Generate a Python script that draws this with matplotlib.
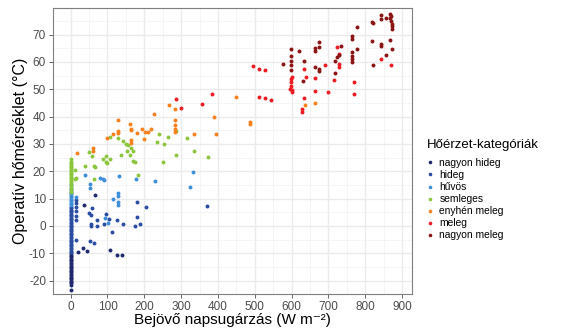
import matplotlib
matplotlib.use("Agg")
import matplotlib.pyplot as plt
from matplotlib.lines import Line2D
from matplotlib.ticker import MultipleLocator

plt.rcParams["font.family"] = ["Liberation Sans", "DejaVu Sans"]
plt.rcParams["axes.unicode_minus"] = False

# ---- data (x: W m-2, y: °C) ----
categories = ["nagyon hideg", "hideg", "hűvös", "semleges",
              "enyhén meleg", "meleg", "nagyon meleg"]
colors = ["#1f2a6e", "#2a4da3", "#3f8fd8", "#8cc63f",
          "#f7811e", "#ed1c24", "#8b1414"]

nh_x = [0] * 25 + [34, 43, 19, 107, 125, 139, 66, 36]
nh_y = [-23.5, -21.5, -21, -20.5, -20, -19.5, -19, -18.5, -18, -17.5,
        -17, -16.5, -16, -15.5, -15, -14.5, -14, -13.5, -13, -12.5,
        -12, -11.5, -11, -10.5, -10,
        -8, -9.1, -9.7, -8.7, -10.7, -10.7, 11.4, 7.5]

h_x = [0] * 34 + [14, 14, 14, 14, 14, 14, 57, 51, 55, 55, 55, 71, 71,
                  96, 105, 125, 111, 90, 141, 175, 188, 181, 181, 204,
                  14, 52, 63, 370]
h_y = [-9.5, -9, -8.5, -8, -7.5, -7, -6.5, -6, -5.5, -5, -4.5, -4,
       -3.5, -3, -2.5, -2, -1.5, -1, -0.5, 0, 0.5, 1, 1.5, 2, 2.5,
       3, 3.5, 4, 4.5, 5, 5.5, 6, 6.5, 7,
       9.6, 8.3, 7.1, 5.3, 3.7, 2.2, 6.5, 4.9, 4, 0.7, -0.2, 2.2, 0,
       4.4, 2.4, 2.2, -2.1, 0.8, 0.6, 0.1, 0.7, 3.4, 8.9, 6.9,
       -5.1, -5.5, -6.4, 7.4]

hu_x = [0] * 14 + [39, 52, 52, 80, 87, 90, 131, 129, 129, 129, 129,
                   114, 177, 229, 324, 331, 93, 102, 14]
hu_y = [7.5, 8, 8.5, 9, 9.5, 10, 10.5, 11, 11.5, 12, 12.5, 13, 14, 15.5,
        18.5, 15.4, 14, 17.5, 17.2, 16.7, 18.4, 12, 10.8, 8.9, 7.7,
        10, 17.3, 16.5, 14.3, 19.8, 2.9, 1.2, 10.5]

s_x = [0] * 22 + [12, 12, 14, 50, 57, 63, 87, 96, 96, 107, 107, 129,
                  136, 64, 66, 39, 98, 184, 168, 143, 150, 157, 153,
                  163, 170, 160, 175, 234, 240, 250, 254, 263, 285,
                  285, 317, 336, 372]
s_y = [12.5, 13, 13.5, 14.5, 15, 16, 16.5, 17, 17.5, 18, 18.5, 19,
       19.5, 20, 20.5, 21, 21.5, 22, 22.5, 23, 23.5, 24.3,
       20.6, 17.3, 17.6, 26.9, 25.5, 21.8, 24.5, 25.7, 23.4, 32.6,
       24.3, 32.2, 26.1, 17.2, 21.6, 21.8, 23, 18.7, 23.6, 30.9,
       29.8, 29.5, 27.5, 28.6, 27.4, 25.8, 23.5, 30.6, 33.5, 23.4,
       30, 32.6, 34.7, 26.1, 32.2, 27.3, 25.1]

e_x = [16, 60, 61, 98, 114, 128, 128, 128, 160, 163, 163, 164, 164,
       179, 195, 199, 203, 209, 217, 226, 267, 282, 282, 282, 282, 282,
       336, 390, 394, 448, 487, 487, 637, 664]
e_y = [26.5, 28.6, 27.5, 32.2, 33.5, 38.6, 34.7, 34.1, 37.1, 35.5, 35,
       31.6, 30.4, 34.1, 35.5, 31.9, 34.2, 34.3, 35.3, 40.9, 44.1, 42.9,
       38.7, 37, 35.5, 34.5, 33.5, 39.7, 33.5, 47.2, 38, 37.1, 44.1, 45.1]

m_x = [286, 299, 358, 385, 495, 512, 528, 512, 528, 543, 598, 598, 598,
       596, 600, 635, 640, 635, 628, 628, 664, 664, 699, 691, 716, 723,
       730, 730, 730, 770, 770, 842, 870, 600, 600]
m_y = [46.3, 43.3, 44.5, 48.2, 58.6, 57.4, 56.9, 47.2, 46.7, 46.2, 53.7,
       52.7, 51, 50, 49.6, 57.4, 54.6, 46.9, 42.9, 41.7, 54, 49.2, 49,
       58.8, 53.3, 65.3, 63, 59.2, 58, 52.5, 48.4, 61, 58.8, 54.5, 48.8]

nm_x = [578, 598, 598, 598, 598, 598, 620, 635, 632, 664, 664, 675, 675,
        664, 675, 675, 719, 723, 729, 719, 735, 765, 765, 765, 765, 765,
        765, 777, 777, 818, 820, 818, 820, 842, 842, 842, 842, 856, 856,
        868, 868, 870, 872, 872, 872, 870, 868, 872]
nm_y = [59.2, 64.7, 62, 60.4, 58.8, 57, 64.1, 60.2, 53, 65, 63.9, 67.3,
        65.4, 58, 57.4, 56.5, 60.4, 61.7, 62.6, 56.1, 65.8, 69.4, 68.4,
        63.5, 62.2, 61, 60, 72.7, 64.8, 74.7, 74.3, 67.8, 58.8, 77, 75.5,
        66.5, 65.7, 75.9, 62.6, 77.5, 76.2, 75, 74, 73, 72, 76.8, 68.1, 64.7]

xs = [nh_x, h_x, hu_x, s_x, e_x, m_x, nm_x]
ys = [nh_y, h_y, hu_y, s_y, e_y, m_y, nm_y]

# ---- figure ----
fig = plt.figure(figsize=(5.69, 3.29), dpi=100)
ax = fig.add_axes([53 / 569, 1 - 294 / 329, 359 / 569, 286 / 329])

for x, y, c in zip(xs, ys, colors):
    ax.scatter(x, y, s=8, color=c, linewidths=0, zorder=3)

ax.set_xlim(-48, 927)
ax.set_ylim(-24.9, 79.7)
ax.xaxis.set_major_locator(MultipleLocator(100))
ax.xaxis.set_minor_locator(MultipleLocator(50))
ax.yaxis.set_major_locator(MultipleLocator(10))
ax.yaxis.set_minor_locator(MultipleLocator(5))

ax.grid(which="major", color="#ebebeb", linewidth=1.0, zorder=0)
ax.grid(which="minor", color="#f2f2f2", linewidth=0.5, zorder=0)
ax.set_axisbelow(True)
for sp in ax.spines.values():
    sp.set_color("#7f7f7f")
    sp.set_linewidth(0.8)

ax.tick_params(which="major", length=3, width=0.6, color="#4d4d4d",
               labelsize=8.5, labelcolor="#4d4d4d", pad=2)
ax.tick_params(which="minor", length=0)

ax.set_xlabel("Bejövő napsugárzás (W m⁻²)", fontsize=11)
ax.xaxis.set_label_coords(0.5, -0.066)
ax.set_ylabel("Operatív hőmérséklet (°C)", fontsize=11.5, labelpad=1)

# legend: title drawn separately to get the wider gap above the keys
fig.text(427 / 569, 1 - 145 / 329, "Hőérzet-kategóriák", fontsize=9.5,
         ha="left", va="center")
handles = [Line2D([], [], marker="o", linestyle="", markersize=2.6,
                  markerfacecolor=c, markeredgewidth=0) for c in colors]
fig.legend(handles, categories,
           loc="upper left", bbox_to_anchor=(426 / 569, 1 - 158 / 329),
           frameon=False, fontsize=7.4,
           handlelength=0.8, handletextpad=0.5, labelspacing=0.2,
           borderaxespad=0, borderpad=0)

fig.savefig("out.png", dpi=100)
